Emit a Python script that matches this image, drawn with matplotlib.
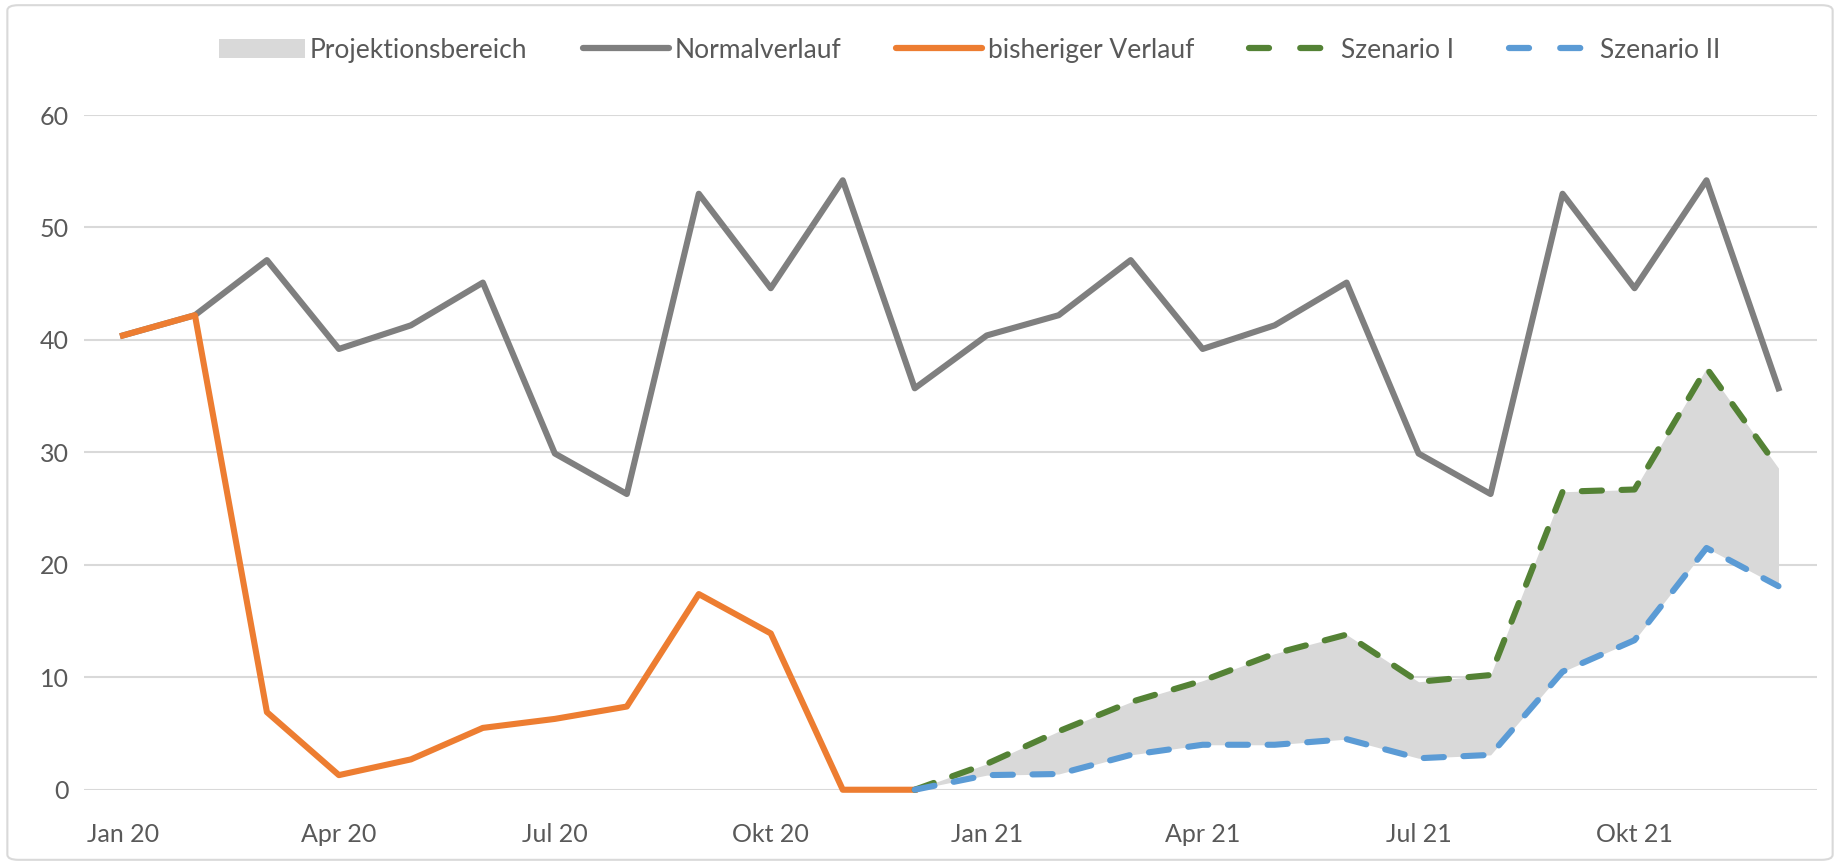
import numpy as np
import matplotlib.pyplot as plt
from matplotlib.patches import Patch, FancyBboxPatch
from matplotlib.lines import Line2D

plt.rcParams['font.family'] = ['Lato', 'DejaVu Sans']

# Monate Jan 20 .. Dez 21 (Index 0..23)
month_idx = list(range(24))
tick_pos = [0, 3, 6, 9, 12, 15, 18, 21]
tick_labels = ['Jan 20', 'Apr 20', 'Jul 20', 'Okt 20', 'Jan 21', 'Apr 21', 'Jul 21', 'Okt 21']

normal = [40.4, 42.2, 47.1, 39.2, 41.3, 45.1, 29.9, 26.3, 53.0, 44.6, 54.2, 35.7,
          40.4, 42.2, 47.1, 39.2, 41.3, 45.1, 29.9, 26.3, 53.0, 44.6, 54.2, 35.7]

bisher_idx = list(range(12))
bisher = [40.4, 42.2, 6.9, 1.3, 2.7, 5.5, 6.3, 7.4, 17.4, 13.9, 0.0, 0.0]

scen_idx = list(range(11, 24))
scen1 = [0.0, 2.3, 5.2, 7.8, 9.7, 12.1, 13.8, 9.6, 10.2, 26.5, 26.7, 37.5, 28.6]
scen2 = [0.0, 1.3, 1.4, 3.1, 4.0, 4.0, 4.5, 2.8, 3.1, 10.5, 13.3, 21.5, 18.1]

c_gray = '#7f7f7f'
c_orange = '#ed7d31'
c_green = '#548235'
c_blue = '#5b9bd5'
c_fill = '#d9d9d9'
c_text = '#595959'

fig = plt.figure(figsize=(18.4, 8.65), dpi=100)
ax = fig.add_axes([0.0457, 0.087, 0.942, 0.78])

# Rahmen um das Diagramm
fig.patches.append(FancyBboxPatch((0.004, 0.006), 0.992, 0.988, boxstyle='round,pad=0,rounding_size=0.006',
                                  transform=fig.transFigure, facecolor='none', edgecolor='#d9d9d9', lw=1.5))

lw = 4.4
dash = (0, (3.3, 3.2))
ax.fill_between(scen_idx, scen2, scen1, color=c_fill, lw=0, zorder=1)
ax.plot(month_idx, normal, color=c_gray, lw=lw, zorder=3)
ax.plot(bisher_idx, bisher, color=c_orange, lw=lw, zorder=4, clip_on=False)
ax.plot(scen_idx, scen1, color=c_green, lw=lw, ls=dash, dash_capstyle='round', zorder=5, clip_on=False)
ax.plot(scen_idx, scen2, color=c_blue, lw=lw, ls=dash, dash_capstyle='round', zorder=6, clip_on=False)

ax.set_xlim(-0.54, 23.54)
ax.set_ylim(0, 60)
ax.set_yticks([0, 10, 20, 30, 40, 50, 60])
ax.set_xticks(tick_pos)
ax.set_xticklabels(tick_labels)
ax.grid(axis='y', color='#d9d9d9', lw=1.5, zorder=0)
ax.set_axisbelow(True)
for s in ax.spines.values():
    s.set_visible(False)
ax.tick_params(axis='both', length=0, labelsize=18, colors=c_text)
ax.tick_params(axis='y', pad=11)
ax.tick_params(axis='x', pad=24)

leg_dash = (0, (3.2, 5.0))
handles = [
    Patch(facecolor=c_fill, edgecolor='none'),
    Line2D([], [], color=c_gray, lw=4.5, solid_capstyle='round'),
    Line2D([], [], color=c_orange, lw=4.5, solid_capstyle='round'),
    Line2D([], [], color=c_green, lw=4.5, ls=leg_dash, dash_capstyle='round'),
    Line2D([], [], color=c_blue, lw=4.5, ls=leg_dash, dash_capstyle='round'),
]
labels = ['Projektionsbereich', 'Normalverlauf', 'bisheriger Verlauf', 'Szenario I', 'Szenario II']
leg = fig.legend(handles, labels, loc='center', bbox_to_anchor=(0.527, 0.942), ncol=5, frameon=False,
                 fontsize=19, handlelength=3.26, handleheight=0.7, handletextpad=0.2, columnspacing=2.1,
                 labelcolor=c_text)

fig.savefig('out.png', dpi=100)
